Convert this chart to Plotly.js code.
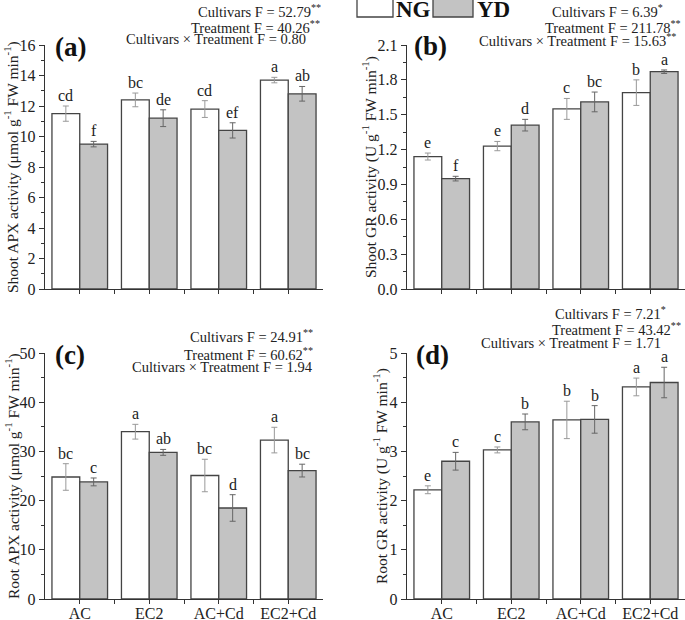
<!DOCTYPE html>
<html>
<head>
<meta charset="utf-8">
<script src="https://cdn.plot.ly/plotly-3.0.1.min.js"></script>
<style>html,body{margin:0;padding:0;background:#fff;}#chart{width:685px;height:620px;}</style>
</head>
<body>
<div id="chart"></div>
<script>
// ---------- data ----------
const categories = ['AC', 'EC2', 'AC+Cd', 'EC2+Cd'];
const seriesNames = ['NG', 'YD'];

const shootAPX_NG = [11.5, 12.4, 11.8, 13.7];
const shootAPX_NG_err = [0.5, 0.45, 0.55, 0.18];
const shootAPX_YD = [9.5, 11.2, 10.4, 12.8];
const shootAPX_YD_err = [0.18, 0.55, 0.5, 0.48];
const shootAPX_NG_letters = ['cd', 'bc', 'cd', 'a'];
const shootAPX_YD_letters = ['f', 'de', 'ef', 'ab'];

const shootGR_NG = [1.14, 1.23, 1.55, 1.69];
const shootGR_NG_err = [0.03, 0.04, 0.09, 0.11];
const shootGR_YD = [0.95, 1.41, 1.61, 1.87];
const shootGR_YD_err = [0.02, 0.05, 0.085, 0.015];
const shootGR_NG_letters = ['e', 'e', 'c', 'b'];
const shootGR_YD_letters = ['f', 'd', 'bc', 'a'];

const rootAPX_NG = [24.8, 34.0, 25.1, 32.3];
const rootAPX_NG_err = [2.7, 1.5, 3.3, 2.6];
const rootAPX_YD = [23.8, 29.8, 18.5, 26.1];
const rootAPX_YD_err = [0.8, 0.6, 2.7, 1.3];
const rootAPX_NG_letters = ['bc', 'a', 'bc', 'a'];
const rootAPX_YD_letters = ['c', 'ab', 'd', 'bc'];

const rootGR_NG = [2.22, 3.03, 3.64, 4.31];
const rootGR_NG_err = [0.08, 0.06, 0.38, 0.18];
const rootGR_YD = [2.8, 3.6, 3.65, 4.4];
const rootGR_YD_err = [0.18, 0.16, 0.28, 0.31];
const rootGR_NG_letters = ['e', 'c', 'b', 'a'];
const rootGR_YD_letters = ['c', 'b', 'b', 'a'];

const panelLabels = ['(a)', '(b)', '(c)', '(d)'];
const yTitles = [
  'Shoot APX activity (μmol g<sup>-1</sup> FW min<sup>-1</sup>)',
  'Shoot GR activity (U g<sup>-1</sup> FW min<sup>-1</sup>)',
  'Root APX activity (μmol g<sup>-1</sup> FW min<sup>-1</sup>)',
  'Root GR activity (U g<sup>-1</sup> FW min<sup>-1</sup>)'
];
const statsA = ['Cultivars F = 52.79<sup>**</sup>', 'Treatment F = 40.26<sup>**</sup>', 'Cultivars × Treatment F = 0.80'];
const statsB = ['Cultivars F = 6.39<sup>*</sup>', 'Treatment F = 211.78<sup>**</sup>', 'Cultivars × Treatment F = 15.63<sup>**</sup>'];
const statsC = ['Cultivars F = 24.91<sup>**</sup>', 'Treatment F = 60.62<sup>**</sup>', 'Cultivars × Treatment F = 1.94'];
const statsD = ['Cultivars F = 7.21<sup>*</sup>', 'Treatment F = 43.42<sup>**</sup>', 'Cultivars × Treatment F = 1.71'];

// ---------- layout helpers ----------
const W = 685, H = 620;
const px = x => x / W;
const py = y => 1 - y / H;
const FONT = '"Liberation Serif", "Times New Roman", serif';
const xIdx = categories.map((c, i) => i);

const panels = [
  {ng: shootAPX_NG, ngE: shootAPX_NG_err, yd: shootAPX_YD, ydE: shootAPX_YD_err, ngL: shootAPX_NG_letters, ydL: shootAPX_YD_letters,
   range: [0, 16], dtick: 2, minor: 1, fmt: '', xdom: [45, 323], ydom: [289, 45], showCat: false,
   stats: statsA, statsX: [323, 322, 308], statsY: [22, 38, 49], lab: [70, 47], titleX: 12},
  {ng: shootGR_NG, ngE: shootGR_NG_err, yd: shootGR_YD, ydE: shootGR_YD_err, ngL: shootGR_NG_letters, ydL: shootGR_YD_letters,
   range: [0, 2.1], dtick: 0.3, minor: 0.15, fmt: '.1f', xdom: [407, 685], ydom: [289, 45], showCat: false,
   stats: statsB, statsX: [665, 683, 678], statsY: [22, 38, 51], lab: [430, 46], titleX: 370},
  {ng: rootAPX_NG, ngE: rootAPX_NG_err, yd: rootAPX_YD, ydE: rootAPX_YD_err, ngL: rootAPX_NG_letters, ydL: rootAPX_YD_letters,
   range: [0, 50], dtick: 10, minor: 5, fmt: '', xdom: [45, 323], ydom: [599, 353], showCat: true,
   stats: statsC, statsX: [315, 315, 315], statsY: [347, 365, 377], lab: [70, 355], titleX: 12},
  {ng: rootGR_NG, ngE: rootGR_NG_err, yd: rootGR_YD, ydE: rootGR_YD_err, ngL: rootGR_NG_letters, ydL: rootGR_YD_letters,
   range: [0, 5], dtick: 1, minor: 0.5, fmt: '', xdom: [407, 685], ydom: [599, 353], showCat: true,
   stats: statsD, statsX: [668, 683, 663], statsY: [324, 340, 353], lab: [432, 355], titleX: 380}
];

const traces = [];
const annotations = [];
const layout = {
  width: W, height: H,
  margin: {l: 0, r: 0, t: 0, b: 0},
  paper_bgcolor: '#fff', plot_bgcolor: 'rgba(0,0,0,0)',
  barmode: 'group', bargap: 0.2, bargroupgap: 0,
  showlegend: false,
  font: {family: FONT, size: 15, color: '#222'},
  shapes: [],
  annotations: annotations
};

panels.forEach((p, k) => {
  const n = k + 1;
  const xa = n === 1 ? 'x' : 'x' + n;
  const ya = n === 1 ? 'y' : 'y' + n;
  traces.push({
    type: 'bar', name: seriesNames[0], x: xIdx, y: p.ng, xaxis: xa, yaxis: ya,
    marker: {color: '#ffffff', line: {color: '#444', width: 1.3}},
    error_y: {type: 'data', array: p.ngE, visible: true, color: '#999', thickness: 1, width: 3}
  });
  traces.push({
    type: 'bar', name: seriesNames[1], x: xIdx, y: p.yd, xaxis: xa, yaxis: ya,
    marker: {color: '#c3c3c3', line: {color: '#444', width: 1.3}},
    error_y: {type: 'data', array: p.ydE, visible: true, color: '#666', thickness: 1, width: 3}
  });
  layout['xaxis' + (n === 1 ? '' : n)] = {
    domain: [px(p.xdom[0]), px(p.xdom[1])], anchor: ya,
    range: [-0.5, 3.5], tickmode: 'array', tickvals: xIdx,
    ticktext: p.showCat ? categories : categories.map(() => ''),
    showline: true, linecolor: '#333', linewidth: 1.2, ticks: 'outside', ticklen: 4, tickcolor: '#333',
    ticklabelstandoff: -4,
    minor: {tickvals: [0.5, 1.5, 2.5], ticks: 'outside', ticklen: 4, tickcolor: '#333'},
    showgrid: false, zeroline: false, fixedrange: true,
    tickfont: {family: FONT, size: 16, color: '#222'}
  };
  layout['yaxis' + (n === 1 ? '' : n)] = {
    domain: [py(p.ydom[0]), py(p.ydom[1])], anchor: xa,
    range: p.range, dtick: p.dtick, tick0: 0, tickformat: p.fmt,
    showline: true, linecolor: '#333', linewidth: 1.2, ticks: 'outside', ticklen: 5, tickcolor: '#333',
    minor: {dtick: p.minor, ticks: 'outside', ticklen: 3, tickcolor: '#333'},
    showgrid: false, zeroline: false, fixedrange: true,
    tickfont: {family: FONT, size: 16, color: '#222'}
  };
  // significance letters
  const addLetters = (vals, errs, letters, off) => {
    vals.forEach((v, i) => annotations.push({
      xref: xa, yref: ya, x: xIdx[i] + off, y: v + errs[i], text: letters[i],
      showarrow: false, xanchor: 'center', yanchor: 'bottom', yshift: 0,
      font: {family: FONT, size: 16, color: '#222'}
    }));
  };
  addLetters(p.ng, p.ngE, p.ngL, -0.2);
  addLetters(p.yd, p.ydE, p.ydL, 0.2);
  // F statistics
  p.stats.forEach((s, i) => annotations.push({
    xref: 'paper', yref: 'paper', x: px(p.statsX[i]), y: py(p.statsY[i]), text: s,
    showarrow: false, xanchor: 'right', yanchor: 'bottom',
    font: {family: FONT, size: 14.5, color: '#222'}
  }));
  // panel label
  annotations.push({
    xref: 'paper', yref: 'paper', x: px(p.lab[0]), y: py(p.lab[1]), text: '<b>' + panelLabels[k] + '</b>',
    showarrow: false, xanchor: 'center', yanchor: 'middle',
    font: {family: FONT, size: 27, color: '#111'}
  });
  // y title
  annotations.push({
    xref: 'paper', yref: 'paper', x: px(p.titleX), y: (py(p.ydom[0]) + py(p.ydom[1])) / 2, text: yTitles[k],
    showarrow: false, textangle: -90, xanchor: 'center', yanchor: 'middle',
    font: {family: FONT, size: 15.5, color: '#222'}
  });
});

// legend (drawn as boxes + text)
layout.shapes.push({type: 'rect', xref: 'paper', yref: 'paper', x0: px(357), x1: px(393), y0: py(17), y1: py(-2),
  fillcolor: '#ffffff', line: {color: '#444', width: 1.3}});
layout.shapes.push({type: 'rect', xref: 'paper', yref: 'paper', x0: px(433), x1: px(473), y0: py(17), y1: py(-2),
  fillcolor: '#c3c3c3', line: {color: '#444', width: 1.3}});
annotations.push({xref: 'paper', yref: 'paper', x: px(394), y: py(9), text: '<b>' + seriesNames[0] + '</b>',
  showarrow: false, xanchor: 'left', yanchor: 'middle', font: {family: FONT, size: 23, color: '#111'}});
annotations.push({xref: 'paper', yref: 'paper', x: px(475), y: py(9), text: '<b>' + seriesNames[1] + '</b>',
  showarrow: false, xanchor: 'left', yanchor: 'middle', font: {family: FONT, size: 23, color: '#111'}});

Plotly.newPlot('chart', traces, layout, {displayModeBar: false, staticPlot: true});
</script>
</body>
</html>
